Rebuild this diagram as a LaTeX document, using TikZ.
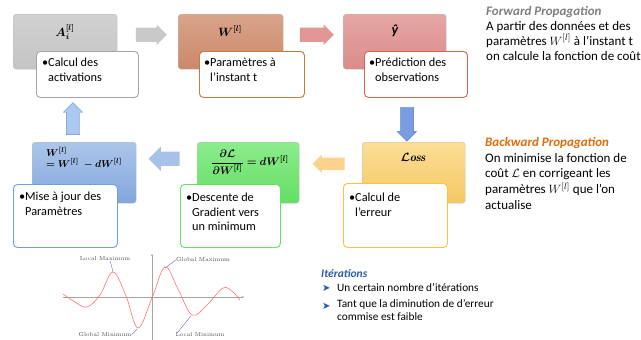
\documentclass[tikz,border=0pt]{standalone}
\usepackage{fontspec}
\usepackage{amsmath,bm}
\newfontfamily\carlito{Carlito}
\newfontfamily\symfont{DejaVu Sans}
\usetikzlibrary{shapes.arrows,calc,arrows.meta}
\definecolor{fwdgray}{HTML}{7F7F7F}
\definecolor{bwdorange}{HTML}{E36C09}
\definecolor{itblue}{HTML}{2E5AA8}
\definecolor{nbgray}{RGB}{165,165,165}
\definecolor{nbbrown}{RGB}{196,124,60}
\definecolor{nbred}{RGB}{214,100,78}
\definecolor{nbyellow}{RGB}{246,196,66}
\definecolor{nbgreen}{RGB}{100,226,100}
\definecolor{nbblue}{RGB}{110,160,220}
\definecolor{brownT}{RGB}{216,164,138}
\definecolor{brownB}{RGB}{204,136,106}
\definecolor{redT}{RGB}{230,166,164}
\definecolor{redB}{RGB}{218,140,138}
\definecolor{yelT}{RGB}{251,222,150}
\definecolor{yelB}{RGB}{246,200,100}
\definecolor{grnT}{RGB}{140,236,140}
\definecolor{grnB}{RGB}{100,222,100}
\definecolor{bluT}{RGB}{172,198,234}
\definecolor{bluB}{RGB}{130,166,220}
\definecolor{arGray}{RGB}{201,201,201}
\definecolor{arRed}{RGB}{226,150,150}
\definecolor{arBlue}{RGB}{122,156,224}
\definecolor{arBlueD}{RGB}{80,116,196}
\definecolor{arYel}{RGB}{253,210,140}
\definecolor{arLBlue}{RGB}{166,194,232}
\definecolor{arUp}{RGB}{170,200,240}
\definecolor{arUpD}{RGB}{100,146,214}
\begin{document}
\begin{tikzpicture}[x=1pt,y=-1pt,
  every node/.style={font=\carlito},
  notebox/.style={rounded corners=4pt, fill=white, line width=0.9pt, draw=#1, inner sep=0pt, anchor=north west},
  notetext/.style={anchor=north west, align=left, inner sep=0pt, font=\carlito\fontsize{12.3}{14.5}\selectfont},
  blockarrow/.style={single arrow, single arrow head extend=3pt, inner sep=0pt, fill=#1},
  mathlbl/.style={font=\fontsize{12}{14}\selectfont, inner sep=0pt},
  glabel/.style={font=\rmfamily\fontsize{5.8}{6}\selectfont, text=black!70, inner sep=0pt},
  gline/.style={draw=blue!40!gray, line width=0.3pt},
  stepbox/.style={rounded corners=3pt, inner sep=0pt, anchor=north west, draw=black!25}
]
\useasboundingbox (0,0) rectangle (641,340);

% ---------- top row ----------
\node[stepbox, top color=black!18, bottom color=black!23, minimum width=104pt, minimum height=55pt] (s1) at (13,14) {};
\node[stepbox, top color=brownT, bottom color=brownB, minimum width=105pt, minimum height=55pt] (s2) at (178,14) {};
\node[stepbox, top color=redT, bottom color=redB, minimum width=103pt, minimum height=55pt] (s3) at (343,14) {};

\node[mathlbl] (m1) at (65,32) {$\bm{A_i}^{\bm{[l]}}$};
\node[mathlbl] (m2) at (230,31) {$\bm{W}^{\bm{[l]}}$};
\node[mathlbl, font=\carlito\fontsize{14}{16}\selectfont] (m3) at (395,31) {\textbf{\textit{ŷ}}};

\node[notebox=nbgray, minimum width=102pt, minimum height=46pt] (n1) at (36,51) {};
\node[notetext] (t1) at (42,58) {\makebox[6pt][l]{•}Calcul des\\\hspace*{6pt}activations};
\node[notebox=nbbrown, minimum width=105pt, minimum height=46pt] (n2) at (199,51) {};
\node[notetext] (t2) at (204,58) {\makebox[6pt][l]{•}Paramètres à\\\hspace*{6pt}l’instant t};
\node[notebox=nbred, minimum width=103pt, minimum height=46pt] (n3) at (364,51) {};
\node[notetext] (t3) at (369,58) {\makebox[6pt][l]{•}Prédiction des\\\hspace*{6pt}observations};

% ---------- bottom row ----------
\node[stepbox, top color=yelT, bottom color=yelB, minimum width=103pt, minimum height=61pt] (s4) at (362,142) {};
\node[stepbox, top color=grnT, bottom color=grnB, minimum width=102pt, minimum height=61pt] (s5) at (197,142) {};
\node[stepbox, top color=bluT, bottom color=bluB, minimum width=104pt, minimum height=61pt] (s6) at (32,142) {};

\node[mathlbl] (m4) at (413,157) {$\bm{\mathcal{L}\mathit{oss}}$};
\node[mathlbl, font=\fontsize{11}{13}\selectfont] (m5) at (250,162) {$\bm{\dfrac{\partial\mathcal{L}}{\partial W^{[l]}} = dW^{[l]}}$};
\node[mathlbl, anchor=north west, align=left, font=\fontsize{10}{11}\selectfont] (m6) at (46,147) {$\bm{W^{[l]}}$\\$\bm{= W^{[l]} \; - dW^{[l]}}$};

\node[notebox=nbyellow, minimum width=104pt, minimum height=64pt] (n4) at (343,183) {};
\node[notetext] (t4) at (349,193) {\makebox[6pt][l]{•}Calcul de\\\hspace*{6pt}l’erreur};
\node[notebox=nbgreen, minimum width=100pt, minimum height=63pt] (n5) at (180,184) {};
\node[notetext] (t5) at (186,193) {\makebox[6pt][l]{•}Descente de\\\hspace*{6pt}Gradient vers\\\hspace*{6pt}un minimum};
\node[notebox=nbblue, minimum width=104pt, minimum height=63pt] (n6) at (13,184) {};
\node[notetext] (t6) at (19,192) {\makebox[6pt][l]{•}Mise à jour des\\\hspace*{6pt}Paramètres};

% ---------- block arrows ----------
\node[blockarrow=arGray, minimum height=31pt] (a1) at ($(s1.east)!0.5!(s2.west)+(0,-7)$) {\phantom{\rule{14pt}{14pt}}};
\node[blockarrow=arRed, minimum height=34pt] (a2) at ($(s2.east)!0.5!(s3.west)+(0,-7)$) {\phantom{\rule{14pt}{14pt}}};
\node[blockarrow=arBlue, draw=arBlueD, line width=0.4pt, shape border rotate=270, minimum height=34pt] (a3) at ($(n3.south)+(-9,23)$) {\phantom{\rule{13pt}{13pt}}};
\node[blockarrow=arYel, shape border rotate=180, minimum height=32pt] (a4) at ($(s5.east)!0.5!(s4.west)+(1,-9)$) {\phantom{\rule{12pt}{12pt}}};
\node[blockarrow=arLBlue, shape border rotate=180, single arrow head extend=5pt, minimum height=31pt] (a5) at ($(s6.east)!0.5!(s5.west)+(1,-14)$) {\phantom{\rule{14pt}{14pt}}};
\node[blockarrow=arUp, draw=arUpD, line width=0.4pt, shape border rotate=90, minimum height=32pt] (a6) at ($(n1.south west)+(37,24)$) {\phantom{\rule{13pt}{13pt}}};

% ---------- right-hand texts ----------
\node[anchor=north west, align=left, inner sep=0pt, font=\carlito\fontsize{13}{15}\selectfont] (fwd) at (486,6)
 {\textcolor{fwdgray}{\textbf{\textit{Forward Propagation}}}\\A partir des données et des\\paramètres $W^{[l]}$ à l’instant t\\on calcule la fonction de coût};
\node[anchor=north west, align=left, inner sep=0pt, font=\carlito\fontsize{13}{15.8}\selectfont] (bwd) at (485,137)
 {\textcolor{bwdorange}{\textbf{\textit{Backward Propagation}}}\\On minimise la fonction de\\coût $\mathcal{L}$ en corrigeant les\\paramètres $W^{[l]}$ que l’on\\actualise};

\node[anchor=west, inner sep=0pt, font=\carlito\fontsize{11.5}{13}\selectfont] (it) at (321,274) {\textcolor{itblue}{\textbf{\textit{Itérations}}}};
\node[anchor=west, inner sep=0pt, font=\symfont\fontsize{10}{11}\selectfont, text=itblue] (bl1) at (322,288) {➤};
\node[anchor=west, inner sep=0pt, font=\carlito\fontsize{11.3}{13}\selectfont] (it1) at (337,288) {Un certain nombre d’itérations};
\node[anchor=west, inner sep=0pt, font=\symfont\fontsize{10}{11}\selectfont, text=itblue] (bl2) at (322,306) {➤};
\node[anchor=north west, align=left, inner sep=0pt, font=\carlito\fontsize{11.3}{13.5}\selectfont] (it2) at (337,299) {Tant que la diminution de d’erreur\\commise est faible};

% ---------- graph ----------
\coordinate (xa0) at (63,297); \coordinate (xa1) at (244,297);
\coordinate (ya0) at (152,340); \coordinate (ya1) at (152,254);
\draw[black!35, line width=0.6pt, -{Stealth[length=2pt,width=2pt]}] (xa0) -- (xa1);
\draw[black!35, line width=0.6pt, -{Stealth[length=2pt,width=2pt]}] (ya0) -- (ya1);
\draw[red!55!white, line width=0.6pt] plot[smooth, tension=0.6] coordinates {(63,294) (75,302) (87,307) (100,295) (113,272) (126,296) (138,328) (152,298) (165,267) (178,289) (192,315) (207,305) (223,288) (233,292) (240,300)};
\node[glabel] (lmax) at (105,259) {Local Maximum};
\node[glabel] (gmax) at (203,260) {Global Maximum};
\node[glabel] (gmin) at (105,335) {Global Minimum};
\node[glabel] (lmin) at (200,335) {Local Minimum};
\coordinate (plmax) at (113,272);
\coordinate (pgmax) at (165,268);
\coordinate (pgmin) at (137,329);
\coordinate (plmin) at (191,316);
\draw[gline] ($(lmax.south east)+(-20,0)$) -- (plmax);
\draw[gline] (gmax.west) -- (pgmax);
\draw[gline] (gmin.east) -- (pgmin);
\draw[gline] ($(lmin.north west)+(2,0)$) -- (plmin);
\end{tikzpicture}
\end{document}
